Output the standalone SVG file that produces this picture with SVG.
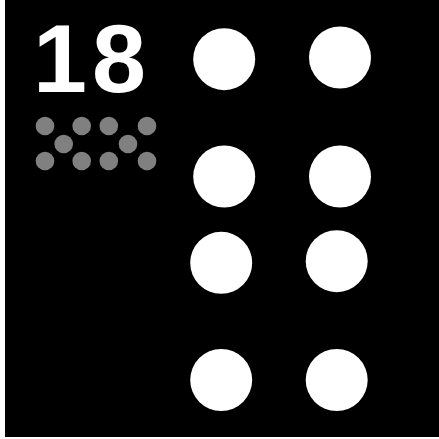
<svg xmlns="http://www.w3.org/2000/svg" width="439" height="439" viewBox="0 0 439 439">
<style>
.big{fill:#ffffff}
.small{fill:#808080}
.num{font-family:"Liberation Sans",Arial,sans-serif;font-weight:bold;font-size:97px;fill:#ffffff}
</style>
<rect x="0" y="0" width="439" height="439" fill="#ffffff"/>
<rect x="5" y="0" width="434" height="437" fill="#000000"/>
<g id="label"><text class="num" x="92" y="92" text-anchor="middle" letter-spacing="5">18</text></g>
<g id="small-dots">
<circle class="small" cx="45" cy="126" r="9.3"/>
<circle class="small" cx="81.7" cy="126" r="9.3"/>
<circle class="small" cx="108.8" cy="126" r="9.3"/>
<circle class="small" cx="147" cy="126" r="9.3"/>
<circle class="small" cx="63.7" cy="144" r="9.3"/>
<circle class="small" cx="128" cy="144" r="9.3"/>
<circle class="small" cx="45" cy="161" r="9.3"/>
<circle class="small" cx="81.7" cy="161" r="9.3"/>
<circle class="small" cx="108.8" cy="161" r="9.3"/>
<circle class="small" cx="147" cy="161" r="9.3"/>
</g>
<g id="big-dots">
<circle class="big" cx="224.2" cy="59.2" r="31"/>
<circle class="big" cx="340" cy="57.5" r="31"/>
<circle class="big" cx="224.2" cy="176.5" r="31"/>
<circle class="big" cx="340" cy="176.5" r="31"/>
<circle class="big" cx="221.2" cy="262.8" r="31"/>
<circle class="big" cx="336.7" cy="261.2" r="31"/>
<circle class="big" cx="221.2" cy="380" r="31"/>
<circle class="big" cx="336.7" cy="380" r="31"/>
</g>
</svg>
